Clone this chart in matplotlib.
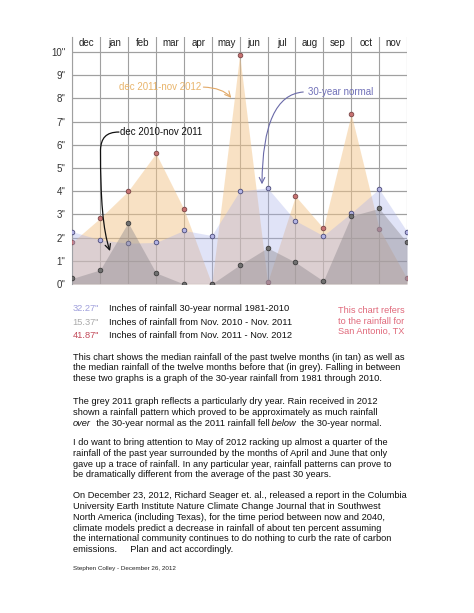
import matplotlib
matplotlib.use('Agg')
import matplotlib.pyplot as plt
from matplotlib.patches import FancyArrowPatch
from matplotlib.path import Path

plt.rcParams['font.family'] = ['Liberation Sans', 'DejaVu Sans']

# months shown as column headers; points sit on the 13 grid lines (nov .. nov)
months = ['dec', 'jan', 'feb', 'mar', 'apr', 'may', 'jun', 'jul', 'aug', 'sep', 'oct', 'nov']
ytick_labels = ['0"', '1"', '2"', '3"', '4"', '5"', '6"', '7"', '8"', '9"', '10"']

rain_2012 = [1.80, 2.84, 4.00, 5.63, 3.23, 0.00, 9.88, 0.07, 3.79, 2.41, 7.33, 2.39, 0.24]
normal_30yr = [2.26, 1.90, 1.76, 1.79, 2.31, 2.09, 4.01, 4.14, 2.73, 2.08, 3.06, 4.10, 2.26]
rain_2011 = [0.24, 0.61, 2.65, 0.48, 0.00, 0.00, 0.82, 1.56, 0.94, 0.13, 2.93, 3.26, 1.79]

totals = ['32.27"', '15.37"', '41.87"']
total_labels = ['Inches of rainfall 30-year normal 1981-2010',
                'Inches of rainfall from Nov. 2010 - Nov. 2011',
                'Inches of rainfall from Nov. 2011 - Nov. 2012']

paragraphs = [
    ['This chart shows the median rainfall of the past twelve months (in tan) as well as',
     'the median rainfall of the twelve months before that (in grey). Falling in between',
     'these two graphs is a graph of the 30-year rainfall from 1981 through 2010.'],
    ['The grey 2011 graph reflects a particularly dry year. Rain received in 2012',
     'shown a rainfall pattern which proved to be approximately as much rainfall',
     None],
    ['I do want to bring attention to May of 2012 racking up almost a quarter of the',
     'rainfall of the past year surrounded by the months of April and June that only',
     'gave up a trace of rainfall. In any particular year, rainfall patterns can prove to',
     'be dramatically different from the average of the past 30 years.'],
    ['On December 23, 2012, Richard Seager et. al., released a report in the Columbia',
     'University Earth Institute Nature Climate Change Journal that in Southwest',
     'North America (including Texas), for the time period between now and 2040,',
     'climate models predict a decrease in rainfall of about ten percent assuming',
     'the international community continues to do nothing to curb the rate of carbon',
     'emissions.     Plan and act accordingly.'],
]
mixed_line = [('over', 'italic'), ('  the 30-year normal as the 2011 rainfall fell', 'normal'),
              (' below', 'italic'), ('  the 30-year normal.', 'normal')]

W, H = 474, 613
fig = plt.figure(figsize=(W / 100, H / 100), dpi=100)
ax = fig.add_axes([72.3 / W, 1 - 284 / H, (407 - 72.3) / W, (284 - 36.7) / H])

x = list(range(len(rain_2012)))

# layers: tan, then 30-year normal, then grey on top
ax.fill_between(x, rain_2012, 0, color='#f3c58a', alpha=0.5, lw=0, zorder=2)
ax.scatter(x, rain_2012, s=11, color='#c87272', edgecolor='#7a4545', lw=0.6, zorder=3)
ax.fill_between(x, normal_30yr, 0, color='#a8b0ea', alpha=0.35, lw=0, zorder=4)
ax.scatter(x, normal_30yr, s=11, color='#b4b4e4', edgecolor='#4a4a7a', lw=0.6, zorder=5)
ax.fill_between(x, rain_2011, 0, color='#8c878c', alpha=0.42, lw=0, zorder=6)
ax.scatter(x, rain_2011, s=11, color='#707070', edgecolor='#3c3c3c', lw=0.6, zorder=7)

ax.set_xlim(0, 12)
ax.set_ylim(0, 10.66)
ax.set_xticks(range(13))
ax.set_xticklabels([])
ax.set_yticks(range(11))
ax.set_yticklabels(ytick_labels, fontsize=7, color='#333333')
ax.tick_params(length=0, pad=5)
ax.grid(True, color='#a0a0a0', lw=0.8, zorder=1)
for side in ['top', 'right', 'bottom']:
    ax.spines[side].set_visible(False)
ax.spines['left'].set_color('#a0a0a0')
ax.spines['left'].set_linewidth(0.8)
ax.hlines(range(11), 0, 12, color='#a0a0a0', lw=0.8, zorder=1)

for i, m in enumerate(months):
    ax.text(i + 0.52, 10.37, m, ha='center', va='center', fontsize=7, color='#222222')

# annotations
ax.text(1.68, 8.49, 'dec 2011-nov 2012', fontsize=7, color='#e9b56c', va='center', zorder=9)
ax.annotate('', xy=(5.76, 7.93), xytext=(4.6, 8.49),
            arrowprops=dict(arrowstyle='->', color='#e2a968', lw=0.8,
                            connectionstyle='angle3,angleA=0,angleB=-55'), zorder=9)

ax.text(8.45, 8.26, '30-year normal', fontsize=7, color='#7070b8', va='center', zorder=9)
ax.annotate('', xy=(6.8, 4.18), xytext=(8.38, 8.28),
            arrowprops=dict(arrowstyle='->', color='#6a6aa8', lw=0.8,
                            connectionstyle='angle3,angleA=0,angleB=90'), zorder=9)

ax.text(1.72, 6.54, 'dec 2010-nov 2011', fontsize=7, color='#111111', va='center', zorder=9)
arrow_path = Path([(1.674, 6.55), (1.208, 6.55), (1.029, 6.29), (1.011, 5.78),
                   (1.011, 3.62), (1.100, 2.33), (1.351, 1.42)],
                  [Path.MOVETO, Path.CURVE4, Path.CURVE4, Path.CURVE4,
                   Path.CURVE4, Path.CURVE4, Path.CURVE4])
ax.add_patch(FancyArrowPatch(path=arrow_path, arrowstyle='->', mutation_scale=10,
                             color='#111111', lw=0.9, zorder=9))

# totals block
total_colors = ['#a0a0dc', '#ababab', '#c24a5a']
for k in range(3):
    yy = 1 - (308.3 + k * 13.85) / H
    fig.text(72.3 / W, yy, totals[k], fontsize=6.7, color=total_colors[k], va='center')
    fig.text(109.3 / W, yy, total_labels[k], fontsize=6.7, color='#111111', va='center')

for k, line in enumerate(['This chart refers', 'to the rainfall for', 'San Antonio, TX']):
    fig.text(338 / W, 1 - (310.3 + k * 10.7) / H, line, fontsize=6.6, color='#e0687a', va='center')

# body text
para_tops = [357.3, 401.7, 442.7, 496.0]
step = 10.7
renderer = fig.canvas.get_renderer()
for p, lines in enumerate(paragraphs):
    for j, line in enumerate(lines):
        yy = 1 - (para_tops[p] + j * step) / H
        if line is None:
            xx = 72.7 / W
            for piece, style in mixed_line:
                t = fig.text(xx, yy, piece, fontsize=6.7, style=style, color='#111111', va='center')
                bb = t.get_window_extent(renderer)
                xx += bb.width / W
        else:
            fig.text(72.7 / W, yy, line, fontsize=6.7, color='#111111', va='center')

fig.text(72.7 / W, 1 - 568.7 / H, 'Stephen Colley - December 26, 2012', fontsize=4.5,
         color='#222222', va='center')

fig.savefig('out.png', dpi=100)
